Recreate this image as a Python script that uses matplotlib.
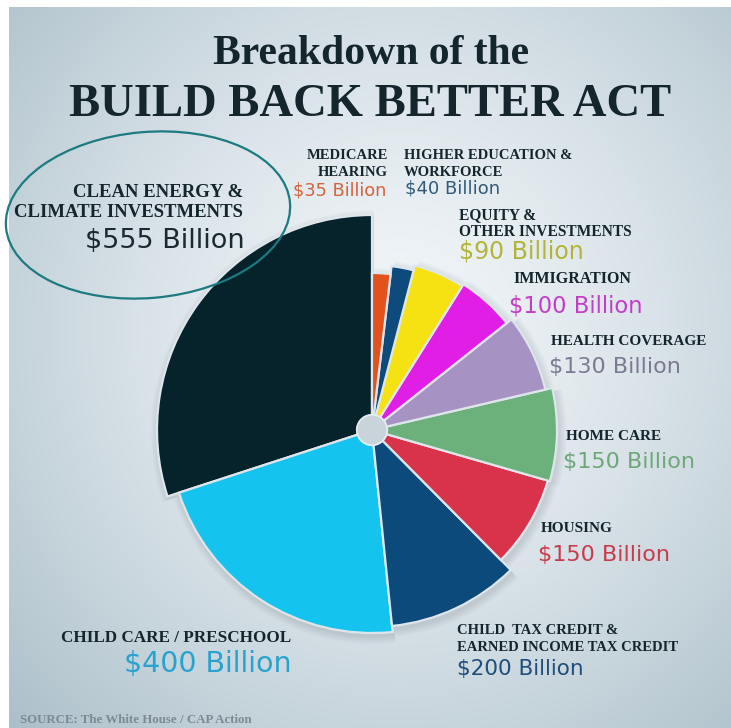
import numpy as np
import matplotlib.pyplot as plt
from matplotlib.patches import Wedge, Circle, Ellipse

W, H = 731, 728

# programme areas, counter-clockwise from the top of the pie
categories = ["CLEAN ENERGY &\nCLIMATE INVESTMENTS",
              "CHILD CARE / PRESCHOOL",
              "CHILD  TAX CREDIT &\nEARNED INCOME TAX CREDIT",
              "HOUSING",
              "HOME CARE",
              "HEALTH COVERAGE",
              "IMMIGRATION",
              "EQUITY &\nOTHER INVESTMENTS",
              "HIGHER EDUCATION &\nWORKFORCE",
              "MEDICARE\nHEARING"]
values = [555, 400, 200, 150, 150, 130, 100, 90, 40, 35]   # $ billion

# slice styling
radii = [215, 203, 197, 183, 185, 178, 172, 170, 165, 157]
slice_colors = ["#06222b", "#14c3ee", "#0b4a7b", "#d9324b", "#6cb07b",
                "#a693c3", "#e01ee6", "#f6e213", "#0e4b7c", "#e2521c"]
value_colors = ["#1b2a31", "#2aa2cf", "#1f4d7c", "#c93b4c", "#6ea879",
                "#7b7a92", "#c43dc8", "#b3b53a", "#315a7a", "#d4633c"]

# label layout: (name x, first baseline, value x, value baseline, align, name size, value size)
label_layout = [
    (243, 197, 245, 248, "right", 13.5, 19.5),
    (291, 642, 292, 672, "right", 12.3, 20.5),
    (457, 634, 457, 675, "left", 10.5, 15.5),
    (541, 532, 538, 561, "left", 11, 16),
    (566, 440, 563, 468, "left", 11, 16),
    (551, 345, 549, 373, "left", 11, 16),
    (513, 283, 509, 312, "left", 11.5, 16.3),
    (459, 219, 459, 259, "left", 11.2, 17),
    (404, 159, 405, 194, "left", 10.5, 13),
    (388, 159, 386, 195, "right", 10.5, 12.8),
]

cx, cy, hole = 372, 430, 15
serif = "Liberation Serif"
dark = "#14252c"

fig = plt.figure(figsize=(W / 100, H / 100), dpi=100)
ax = fig.add_axes([0, 0, 1, 1])
ax.set_xlim(0, W)
ax.set_ylim(H, 0)
ax.axis("off")

# soft radial backdrop
yy, xx = np.mgrid[0:H, 0:W]
d = np.hypot(xx - 400, (yy - 330) * 0.95) / 560
t = np.clip(d, 0, 1) ** 1.4
inner = np.array([0.945, 0.962, 0.975])
outer = np.array([0.66, 0.74, 0.78])
img = inner * (1 - t[..., None]) + outer * t[..., None]
img[:7, :] = 1
img[:, :9] = 1
ax.imshow(img, extent=(0, W, H, 0), aspect="auto", zorder=0)

total = sum(values)
start = 90.0
for v, r, c in zip(values, radii, slice_colors):
    span = v / total * 360
    # y axis runs downward, so angles are mirrored
    for k in range(1, 9):
        ax.add_patch(Wedge((cx + 2, cy + 3), r + k, -(start + span), -start,
                           facecolor="#4a5c68", edgecolor="none", alpha=0.02, zorder=1))
    ax.add_patch(Wedge((cx, cy), r, -(start + span), -start, width=r - hole,
                       facecolor=c, edgecolor="#dfe6eb", linewidth=1.6, zorder=3))
    start += span
ax.add_patch(Circle((cx, cy), hole, facecolor="#c9d3da", edgecolor="#e6ecef",
                    linewidth=1, zorder=4))

for name, v, col, lay in zip(categories, values, value_colors, label_layout):
    nx, ny, vx, vy, ha, nfs, vfs = lay
    step = 20 if nfs > 13 else 17
    for i, line in enumerate(name.split("\n")):
        ax.text(nx, ny + i * step, line, ha=ha, va="baseline", fontsize=nfs,
                family=serif, weight="bold", color=dark, zorder=5)
    ax.text(vx, vy, f"${v} Billion", ha=ha, va="baseline", fontsize=vfs,
            family="DejaVu Sans", color=col, zorder=5)

ax.add_patch(Ellipse((148, 215), 285, 166, angle=-5, fill=False,
                     edgecolor="#1d7a80", linewidth=1.6, zorder=6))

ax.text(371, 64, "Breakdown of the", ha="center", va="baseline", fontsize=30,
        family=serif, weight="bold", color=dark)
ax.text(370, 116, "BUILD BACK BETTER ACT", ha="center", va="baseline", fontsize=33.6,
        family=serif, weight="bold", color=dark)
ax.text(20, 723, "SOURCE: The White House / CAP Action", ha="left", va="baseline",
        fontsize=9.3, family=serif, weight="bold", color="#7d8a92")

fig.savefig("out.png", dpi=100)
